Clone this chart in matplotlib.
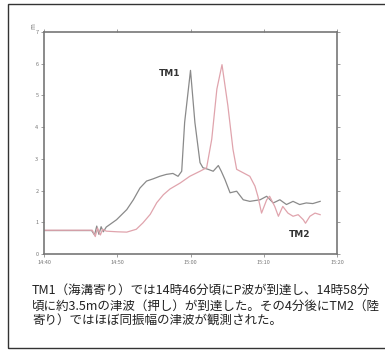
import matplotlib
matplotlib.use('Agg')
import matplotlib.pyplot as plt
from matplotlib.patches import Rectangle

plt.rcParams['font.family'] = ['Noto Sans CJK JP', 'DejaVu Sans']

# minutes after 14:40 and water height (m)
tm1_t = [0, 6.5, 6.9, 7.2, 7.5, 7.8, 8.1, 8.5, 9.9, 11.3, 12.2, 13.1, 14.0, 14.9,
         15.8, 16.7, 17.6, 18.3, 18.8, 19.2, 20.0, 20.6, 21.3, 21.7, 22.4, 23.1,
         23.8, 24.2, 24.7, 25.4, 26.3, 27.2, 28.1, 29.5, 30.4, 31.3, 32.2, 33.1,
         34.0, 34.9, 35.8, 36.7, 37.7]
tm1_h = [0.74, 0.74, 0.6, 0.88, 0.62, 0.86, 0.7, 0.85, 1.08, 1.4, 1.71, 2.08, 2.3, 2.37,
         2.45, 2.51, 2.54, 2.45, 2.61, 4.15, 5.79, 4.15, 2.88, 2.72, 2.67, 2.61,
         2.79, 2.61, 2.35, 1.93, 1.98, 1.71, 1.66, 1.71, 1.82, 1.61, 1.71, 1.56,
         1.66, 1.56, 1.61, 1.59, 1.66]

tm2_t = [0, 6.6, 7.0, 7.3, 7.7, 8.0, 8.5, 10.0, 11.3, 12.6, 13.5, 14.5, 15.4, 16.3,
         17.2, 18.6, 19.9, 21.3, 22.2, 22.9, 23.6, 24.3, 25.1, 25.8, 26.3, 27.2,
         28.1, 28.8, 29.2, 29.7, 30.4, 30.8, 31.5, 32.0, 32.6, 33.3, 34.0, 34.7,
         35.4, 35.7, 36.3, 37.0, 37.7]
tm2_h = [0.75, 0.75, 0.55, 0.82, 0.6, 0.78, 0.72, 0.7, 0.69, 0.78, 0.98, 1.25, 1.62, 1.87,
         2.05, 2.24, 2.45, 2.61, 2.72, 3.62, 5.2, 5.97, 4.68, 3.3, 2.67, 2.56,
         2.45, 2.14, 1.82, 1.29, 1.71, 1.82, 1.5, 1.19, 1.5, 1.29, 1.19, 1.24,
         1.08, 0.97, 1.19, 1.29, 1.24]

xticks = [0, 10, 20, 30, 40]
xticklabels = ['14:40', '14:50', '15:00', '15:10', '15:20']
yticks = [0, 1, 2, 3, 4, 5, 6, 7]

caption = ['TM1（海溝寄り）では14時46分頃にP波が到達し、14時58分',
           '頃に約3.5mの津波（押し）が到達した。その4分後にTM2（陸',
           '寄り）ではほぼ同振幅の津波が観測された。']

W, H = 385, 354
fig = plt.figure(figsize=(W / 100, H / 100), dpi=100)
ax = fig.add_axes([44 / W, 1 - 254 / H, (337 - 44) / W, (254 - 32) / H])

ax.plot(tm1_t, tm1_h, color='#8a8a8a', lw=0.9)
ax.plot(tm2_t, tm2_h, color='#e0a4ad', lw=0.9)

ax.text(17.2, 5.68, 'TM1', fontsize=6.5, ha='center', va='center', color='#333333',
        family='DejaVu Sans', fontweight='bold')
ax.text(34.9, 0.6, 'TM2', fontsize=6.5, ha='center', va='center', color='#333333',
        family='DejaVu Sans', fontweight='bold')

ax.set_xlim(0, 40)
ax.set_ylim(0, 7)
ax.set_xticks(xticks)
ax.set_xticklabels(xticklabels)
ax.set_yticks(yticks)
ax.tick_params(labelsize=4, colors='#777777', length=2, width=0.5, pad=2,
               top=True, right=True)
for s in ax.spines.values():
    s.set_color('#777777')
    s.set_linewidth(1.2)

fig.text(33 / W, 1 - 26 / H, 'm', fontsize=4.5, color='#777777', rotation=90,
         ha='center', va='center')

for i, line in enumerate(caption):
    fig.text(32 / W, 1 - (290 + 15.8 * i) / H, line, fontsize=9.0, color='#222222',
             ha='left', va='center')

fig.patches.append(Rectangle((8 / W, 1 - 348 / H), 1.2, (348 - 4) / H,
                             transform=fig.transFigure, fill=False,
                             edgecolor='#333333', lw=1.0))

fig.savefig('out.png', dpi=100)
